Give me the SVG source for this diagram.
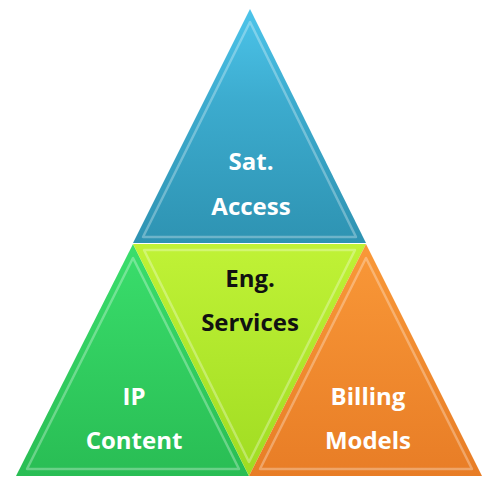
<svg xmlns="http://www.w3.org/2000/svg" width="483" height="477" viewBox="0 0 483 477">
<defs>
<linearGradient id="gBlue" x1="0" y1="0" x2="0" y2="1"><stop offset="0" stop-color="#4cc4ea"/><stop offset="0.4" stop-color="#3cabce"/><stop offset="1" stop-color="#2e93b2"/></linearGradient>
<linearGradient id="gGreen" x1="0" y1="0" x2="0" y2="1"><stop offset="0" stop-color="#3ade6c"/><stop offset="1" stop-color="#29bd54"/></linearGradient>
<linearGradient id="gLime" x1="0" y1="0" x2="0" y2="1"><stop offset="0" stop-color="#c0f236"/><stop offset="1" stop-color="#a0dc22"/></linearGradient>
<linearGradient id="gOrange" x1="0" y1="0" x2="0" y2="1"><stop offset="0" stop-color="#f99838"/><stop offset="1" stop-color="#e87d26"/></linearGradient>
</defs>
<style>
.lbl{font-family:"Open Sans","Noto Sans","Liberation Sans",sans-serif;font-weight:700;font-size:24px;text-anchor:middle}
.w{fill:#ffffff}
.k{fill:#111111}
.bevel{fill:none;stroke:#ffffff;stroke-opacity:0.3;stroke-width:2.5;stroke-linejoin:round}
</style>
<g id="sat-access">
<polygon points="250,9 133,243 366,243" fill="url(#gBlue)"/>
<polygon points="250,22 143,237 356,237" class="bevel"/>
<text class="lbl w" x="251" y="170">Sat.</text>
<text class="lbl w" x="251" y="215">Access</text>
</g>
<g id="ip-content">
<polygon points="133,244 16,476 249,476" fill="url(#gGreen)"/>
<polygon points="133,258 27,469 239,469" class="bevel"/>
<text class="lbl w" x="134" y="405">IP</text>
<text class="lbl w" x="134" y="449">Content</text>
</g>
<g id="eng-services">
<polygon points="133,244 366,244 249,476" fill="url(#gLime)"/>
<polygon points="144,250 355,250 249,462" class="bevel"/>
<text class="lbl k" x="250" y="287">Eng.</text>
<text class="lbl k" x="250" y="331">Services</text>
</g>
<g id="billing-models">
<polygon points="366,244 249,476 482,476" fill="url(#gOrange)"/>
<polygon points="366,258 260,469 472,469" class="bevel"/>
<text class="lbl w" x="368" y="405">Billing</text>
<text class="lbl w" x="368" y="449">Models</text>
</g>
<g id="connectors"></g>
</svg>
